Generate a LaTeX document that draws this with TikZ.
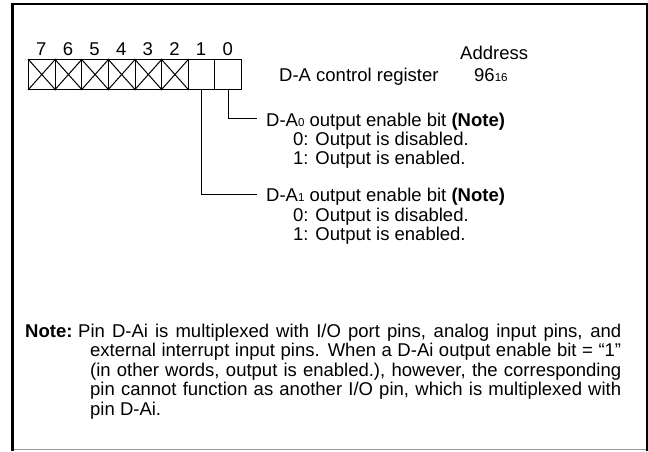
\documentclass[tikz,border=0pt]{standalone}
\usepackage{fontspec}
\setmainfont{Liberation Sans}
\newcommand\smallsub[1]{{\fontsize{11.5}{12}\selectfont #1}}
\begin{document}
\begin{tikzpicture}[x=1pt,y=-1pt,
  txt/.style={anchor=base west,inner sep=0pt,font=\fontsize{18.5}{22}\selectfont},
  cell/.style={draw,line width=1pt,minimum width=26.625pt,minimum height=30pt,inner sep=0pt,anchor=north west},
  conn/.style={line width=1pt},
  frame/.style={line width=2.5pt}]
\useasboundingbox (0,0) rectangle (648,451);
\draw[frame] (12.5,4) -- (647,4) -- (647,451.3);
\draw[frame] (12.5,2.75) -- (12.5,451.3);
\draw[line width=1.3pt,black!40] (13.75,449.8) -- (645.75,449.8);
% register cells
\foreach \i in {0,...,7} {
  \pgfmathtruncatemacro\b{7-\i}
  \node[cell] (b\b) at ({28+\i*26.625},59) {};
  \node[txt,anchor=base] (d\b) at ({28+\i*26.625+13.31},55) {\b};
}
\foreach \b in {2,...,7} {
  \draw[conn] (b\b.north west) -- (b\b.south east) (b\b.north east) -- (b\b.south west);
}
% header texts
\node[txt] (addr) at (460,59) {Address};
\node[txt] (reg) at (279,81) {D-A control register};
\node[txt] (val) at (474,81) {96\smallsub{16}};
% connectors
\coordinate (e0) at (257,118.5);
\coordinate (e1) at (257,194.5);
\draw[conn] (b0.south) |- (e0);
\draw[conn] (b1.south) |- (e1);
% bit descriptions
\node[txt] (t0) at (266,126) {D-A\smallsub{0} output enable bit \textbf{(Note)}};
\node[txt] (t0a) at (293,145) {0: Output is disabled.};
\node[txt] (t0b) at (293,164) {1: Output is enabled.};
\node[txt] (t1) at (266,201) {D-A\smallsub{1} output enable bit \textbf{(Note)}};
\node[txt] (t1a) at (293,221) {0: Output is disabled.};
\node[txt] (t1b) at (293,240) {1: Output is enabled.};
% note
\node[txt] (nl) at (25,337) {\bfseries Note:};
\node[txt] (n1) at (78,337) {\makebox[543pt][s]{Pin D-Ai is multiplexed with I/O port pins, analog input pins, and}};
\node[txt] (n2) at (90,356.5) {\makebox[531pt][s]{external interrupt input pins. When a D-Ai output enable bit = “1”}};
\node[txt] (n3) at (90,376) {\makebox[531pt][s]{(in other words, output is enabled.), however, the corresponding}};
\node[txt] (n4) at (90,395.5) {\makebox[531pt][s]{pin cannot function as another I/O pin, which is multiplexed with}};
\node[txt] (n5) at (90,415) {pin D-Ai.};
\end{tikzpicture}
\end{document}
